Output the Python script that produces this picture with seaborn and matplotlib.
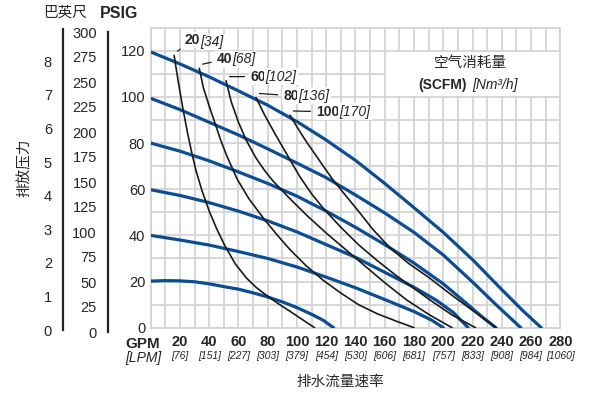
import matplotlib
matplotlib.use('Agg')
import matplotlib.pyplot as plt
import seaborn as sns
from matplotlib.patches import Rectangle

# blue curves: constant air inlet pressure (PSIG)
flow_120 = [0, 20, 40, 60, 80, 100, 120, 140, 160, 180, 200, 220, 240, 255, 267]
psi_120 = [119.5, 114.3, 108.7, 102.6, 96.4, 89.3, 81.3, 72.5, 62.5, 52, 41.3, 29.5, 16.5, 7, 0]
flow_100 = [0, 20, 40, 60, 80, 100, 120, 140, 160, 180, 200, 220, 236, 253]
psi_100 = [99.4, 94.5, 89, 83.5, 77.5, 71.3, 65, 57.5, 49.7, 41.3, 31.5, 19.8, 10, 0]
flow_80 = [0, 20, 40, 60, 80, 100, 120, 140, 160, 180, 200, 215, 226, 236]
psi_80 = [80, 76.5, 72.3, 67.5, 62.5, 57, 50.5, 43.5, 36, 28, 19, 11, 5, 0]
flow_60 = [0, 20, 40, 60, 80, 100, 120, 140, 160, 180, 195, 207, 217]
psi_60 = [59.8, 57.3, 54.2, 50.5, 46.3, 41.5, 36, 30.5, 24, 17.5, 12, 6.5, 0]
flow_40 = [0, 20, 40, 60, 80, 100, 120, 140, 160, 180, 192, 200]
psi_40 = [40, 38, 35.8, 33, 30, 26.3, 21.9, 17.3, 12.2, 7, 3.3, 0]
flow_20 = [0, 10, 20, 30, 40, 50, 60, 70, 80, 90, 100, 110, 118, 125]
psi_20 = [20.2, 20.4, 20.3, 19.9, 19, 17.8, 16.7, 15.1, 13.3, 11.2, 8.7, 5.8, 3.2, 0]

# black curves: air consumption (SCFM)
flow_s20 = [16, 19, 22, 25, 28, 31, 35, 40, 45, 50.7, 58, 65.5, 72, 79.2, 87, 95, 103, 112]
psi_s20 = [118, 106, 95, 85, 76, 68, 59.5, 50.5, 43, 35.5, 27.5, 21.5, 17.5, 14, 10.5, 7.2, 3.8, 0]
flow_s40 = [33.2, 36, 40, 44, 48, 52, 59, 67, 77, 86, 95, 106, 118, 130, 142, 155, 168, 180]
psi_s40 = [112.4, 104, 96, 88.5, 81, 74.5, 64.5, 56, 47.5, 40.5, 34, 27, 20.5, 15, 10, 6, 2.8, 0]
flow_s60 = [51.5, 55, 60, 65.5, 72, 78, 83.7, 95, 107, 120, 133, 146, 160, 175, 190.7, 206]
psi_s60 = [107, 98, 89, 81, 73.5, 68, 63.5, 56, 48.5, 41, 34, 27, 19.5, 12, 5.5, 0]
flow_s80 = [72, 78, 85, 95, 101.9, 110, 119, 130, 142, 155, 168, 180, 190.7, 206, 222]
psi_s80 = [99.7, 92, 84, 73, 65.5, 58, 51, 43.5, 36, 29, 22.5, 17, 12.1, 5.5, 0]
flow_s100 = [95.2, 100, 106, 112, 118, 124.7, 133, 142, 152, 163, 176, 190.7, 205, 220, 236]
psi_s100 = [92.1, 87, 81, 75.5, 70, 64, 57.5, 50.5, 42.5, 35, 28, 21.5, 14.5, 7.5, 0]

scfm_nums = ['20', '40', '60', '80', '100']
scfm_nm3 = ['[34]', '[68]', '[102]', '[136]', '[170]']
scfm_label_x = [23.4, 45.1, 67.9, 90.6, 113]
scfm_label_y = [124.7, 116.3, 108.8, 100.5, 93.6]

gpm_ticks = [20, 40, 60, 80, 100, 120, 140, 160, 180, 200, 220, 240, 260, 280]
lpm_labels = ['[76]', '[151]', '[227]', '[303]', '[379]', '[454]', '[530]', '[606]',
              '[681]', '[757]', '[833]', '[908]', '[984]', '[1060]']
psi_ticks = [0, 20, 40, 60, 80, 100, 120]
ft_ticks = list(range(0, 301, 25))
bar_ticks = list(range(0, 9))

sns.set_style('white')
plt.rcParams['font.family'] = ['Liberation Sans Narrow', 'Liberation Sans', 'DejaVu Sans']
CJK = ['Noto Sans CJK SC', 'DejaVu Sans']
BLUE = '#0b4d93'
GRID = '#d4d4d4'

fig = plt.figure(figsize=(5.93, 3.95), dpi=100)
ax = fig.add_axes([150.7 / 593, 67.3 / 395, 409.6 / 593, 300 / 395])

blue = [(flow_120, psi_120), (flow_100, psi_100), (flow_80, psi_80),
        (flow_60, psi_60), (flow_40, psi_40), (flow_20, psi_20)]
for fx, py in blue:
    sns.lineplot(x=fx, y=py, ax=ax, color=BLUE, lw=2.3, sort=False,
                 estimator=None, zorder=3)

black = [(flow_s20, psi_s20), (flow_s40, psi_s40), (flow_s60, psi_s60),
         (flow_s80, psi_s80), (flow_s100, psi_s100)]
for i, (fx, py) in enumerate(black):
    sns.lineplot(x=fx, y=py, ax=ax, color='#1a1a1a', lw=1.2, sort=False,
                 estimator=None, zorder=4)
    t = ax.annotate(scfm_nums[i], xy=(fx[0] + 2.3, py[0] + 1.8),
                    xytext=(scfm_label_x[i], scfm_label_y[i]),
                    fontsize=10, fontweight='bold', ha='left', va='center',
                    bbox=dict(fc='white', ec='none', pad=1),
                    arrowprops=dict(arrowstyle='-', lw=0.9, color='#1a1a1a',
                                    shrinkA=3, shrinkB=0), zorder=5)
    ax.annotate(scfm_nm3[i], xy=(1, 0.5), xycoords=t, fontsize=10,
                fontstyle='italic', ha='left', va='center',
                bbox=dict(fc='white', ec='none', pad=1), zorder=5)

# title box for air consumption
ax.add_patch(Rectangle((160.6, 100.6), 119, 18.8, fc='white', ec='none', zorder=1))
ax.text(218.5, 114.6, '空气消耗量', family=CJK, fontsize=10.5, ha='center',
        va='center', zorder=5)
ax.text(216.2, 105.3, '(SCFM)', fontsize=10, fontweight='bold', ha='right',
        va='center', zorder=5)
ax.text(219.6, 105.3, '[Nm³/h]', fontsize=10, fontstyle='italic', ha='left',
        va='center', zorder=5)

ax.set_xlim(0, 280)
ax.set_ylim(0, 130)
ax.set_xticks(gpm_ticks)
ax.set_xticklabels([str(g) for g in gpm_ticks], fontweight='bold')
ax.set_xticks(range(0, 281, 10), minor=True)
ax.set_yticks(psi_ticks)
ax.set_yticks(range(0, 131, 10), minor=True)
ax.grid(which='both', color=GRID, lw=1.3)
ax.set_axisbelow(True)
ax.tick_params(which='both', length=0)
ax.tick_params(axis='y', labelsize=10.5, pad=4)
ax.tick_params(axis='x', labelsize=10.5, pad=5)
for s in ax.spines.values():
    s.set_color(GRID)
    s.set_linewidth(1.3)
ax.set_xlabel('')
ax.set_ylabel('')

for g, lab in zip(gpm_ticks, lpm_labels):
    ax.text(g, -0.095, lab, transform=ax.get_xaxis_transform(), fontsize=7.5,
            fontstyle='italic', ha='center', va='center')

# extra pressure scales on the left: feet and bar
ax_ft = fig.add_axes([108 / 593, 63 / 395, 0.0001, 300 / 395])
ax_ft.set_ylim(0, 300)
ax_ft.set_yticks(ft_ticks)
ax_bar = fig.add_axes([63 / 593, 65 / 395, 0.0001, 301 / 395])
ax_bar.set_ylim(0, 8.96)
ax_bar.set_yticks(bar_ticks)
for a in (ax_ft, ax_bar):
    a.set_facecolor('none')
    a.set_xticks([])
    for side in ('top', 'right', 'bottom'):
        a.spines[side].set_visible(False)
    a.spines['left'].set_color('#222222')
    a.spines['left'].set_linewidth(1.6)
    a.tick_params(axis='y', length=6, width=1.6, color='#222222',
                  labelsize=10.5, pad=2)

fig.text(43 / 593, 1 - 13 / 395, '巴英尺', family=CJK, fontsize=10.5,
         ha='left', va='center')
fig.text(100 / 593, 1 - 13 / 395, 'PSIG', fontsize=11.5, fontweight='bold',
         ha='left', va='center')
fig.text(25 / 593, 1 - 168 / 395, '排放压力', family=CJK, fontsize=10.5,
         rotation=90, ha='center', va='center')
fig.text(340 / 593, 1 - 381.7 / 395, '排水流量速率', family=CJK, fontsize=10.5,
         ha='center', va='center')
fig.text(143 / 593, 1 - 344.5 / 395, 'GPM', fontsize=11, fontweight='bold',
         ha='center', va='center')
fig.text(143 / 593, 1 - 358 / 395, '[LPM]', fontsize=10, fontstyle='italic',
         ha='center', va='center')

fig.savefig('out.png', dpi=100)
